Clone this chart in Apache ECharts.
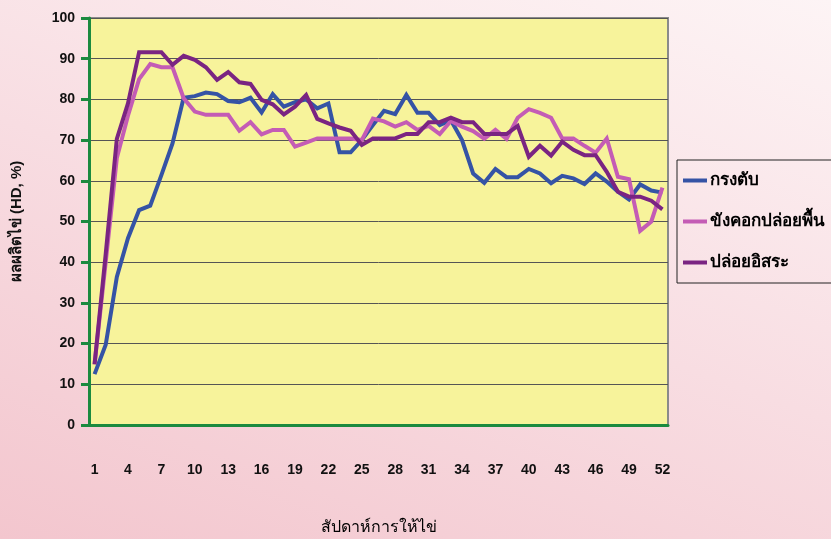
<!DOCTYPE html>
<html>
<head>
<meta charset="utf-8">
<script src="https://cdn.jsdelivr.net/npm/echarts@6/dist/echarts.min.js"></script>
<style>
html,body{margin:0;padding:0;}
body{width:831px;height:539px;background:linear-gradient(200deg,#fdf4f5 0%,#f8dde2 50%,#f3c6ce 100%);}
#c{width:831px;height:539px;}
</style>
</head>
<body>
<div id="c"></div>
<script>
var weeks = [];
for (var w = 1; w <= 52; w++) weeks.push(String(w));

var seriesNames = ['กรงตับ', 'ขังคอกปล่อยพื้น', 'ปล่อยอิสระ'];

var cage = [12.5,19.7,36.4,45.9,52.8,53.9,61.4,69.2,80.4,80.8,81.7,81.3,79.6,79.3,80.4,76.8,81.3,78.2,79.3,80,77.8,79,67,67,70,73.7,77.2,76.4,81.1,76.7,76.7,73.7,74.9,70,61.8,59.5,62.9,60.9,60.9,62.9,61.8,59.4,61.2,60.6,59.2,61.8,59.8,57.3,55.4,59.1,57.6,57.1];

var penFloor = [15,40,65.6,76,85,88.7,87.9,87.9,80.3,77,76.2,76.2,76.2,72.3,74.4,71.4,72.5,72.5,68.4,69.4,70.4,70.4,70.4,70.4,70,75.3,74.6,73.3,74.4,72.5,73.5,71.5,74.7,73.3,72.2,70.3,72.5,70.3,75.5,77.6,76.7,75.5,70.4,70.4,68.6,66.9,70.4,61,60.4,47.7,50,58.3];

var freeRange = [14.9,42,70.3,79,91.6,91.6,91.6,88.5,90.7,89.7,87.9,84.8,86.7,84.2,83.8,79.9,78.8,76.3,78.2,81.1,75.2,74.1,73.1,72.3,68.8,70.4,70.4,70.4,71.5,71.5,74.4,74.4,75.5,74.4,74.4,71.5,71.5,71.5,73.5,65.9,68.6,66.2,69.6,67.6,66.3,66.3,62.2,57.3,56.1,56.1,55.1,53];

var yTicks = [0,10,20,30,40,50,60,70,80,90,100];

var colors = ['#3553a5', '#c45cb5', '#7a2482'];
var green = '#1b8a3f';

var chart = echarts.init(document.getElementById('c'), null, {renderer: 'canvas'});
var mk = function (name, data, color) {
  return {
    name: name, type: 'line', data: data, symbol: 'none', showSymbol: false,
    lineStyle: {color: color, width: 4, join: 'miter'}, itemStyle: {color: color},
    animation: false
  };
};
chart.setOption({
  animation: false,
  textStyle: {fontFamily: 'Liberation Sans, Arial, sans-serif'},
  grid: {left: 89, top: 18, right: 163, bottom: 114, show: true,
         outerBoundsMode: 'none', containLabel: false,
         backgroundColor: '#f7f39b', borderColor: '#8a8a8a', borderWidth: 2},
  legend: {
    orient: 'vertical', left: 677, top: 160,
    data: seriesNames,
    itemWidth: 24, itemHeight: 4, itemGap: 20,
    icon: 'rect',
    borderColor: '#222', borderWidth: 1, padding: [10, 8, 10, 6],
    textStyle: {fontSize: 17, fontWeight: 'bold', color: '#000', lineHeight: 21, padding: [0,0,0,-2]}
  },
  xAxis: {
    type: 'category', data: weeks, boundaryGap: true,
    name: 'สัปดาห์การให้ไข่', nameLocation: 'middle', nameGap: 95,
    nameTextStyle: {fontSize: 16, color: '#000'},
    axisLine: {lineStyle: {color: green, width: 3}},
    axisTick: {interval: 2, length: 8, lineStyle: {color: green, width: 3}},
    axisLabel: {interval: 2, margin: 38, fontSize: 14, fontWeight: 'bold', color: '#111'},
    splitLine: {show: false}
  },
  yAxis: {
    type: 'value', min: yTicks[0], max: yTicks[yTicks.length - 1], interval: 10,
    name: 'ผลผลิตไข่ (HD, %)', nameLocation: 'middle', nameGap: 65, nameRotate: 90,
    nameTextStyle: {fontSize: 15, fontWeight: 'bold', color: '#111'},
    axisLine: {show: true, lineStyle: {color: green, width: 3}},
    axisTick: {show: true, length: 8, lineStyle: {color: green, width: 3}},
    axisLabel: {margin: 14, fontSize: 14, fontWeight: 'bold', color: '#111'},
    splitLine: {lineStyle: {color: '#555', width: 1}}
  },
  series: [
    mk(seriesNames[0], cage, colors[0]),
    mk(seriesNames[1], penFloor, colors[1]),
    mk(seriesNames[2], freeRange, colors[2])
  ]
});
</script>
</body>
</html>
